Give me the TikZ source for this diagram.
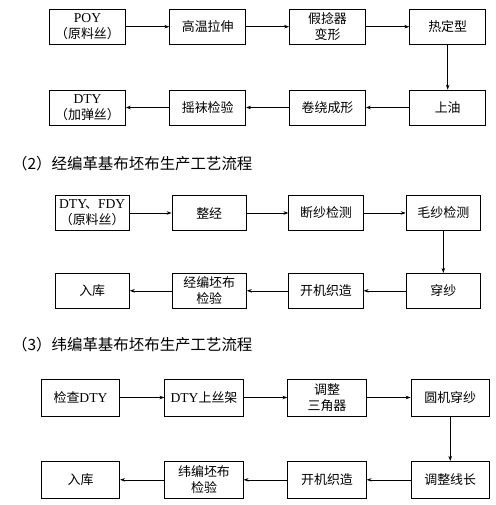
\documentclass[tikz,border=0pt]{standalone}
\usepackage{fontspec}
\setmainfont{Noto Sans CJK SC}
\newfontfamily\lat[Scale=1.05]{Liberation Serif}
\usetikzlibrary{arrows.meta}
\tikzset{
  pbox/.style={draw=black, line width=0.7bp, minimum width=76bp, minimum height=35bp, inner sep=0pt, align=center, font=\fontsize{13}{16}\selectfont},
  flow/.style={line width=0.6bp, -{Stealth[length=5bp,width=3.5bp]}},
  ttl/.style={anchor=west, inner sep=0pt, font=\fontsize{15.5}{18}\selectfont}
}
\begin{document}
\begin{tikzpicture}[x=1bp,y=-1bp]
\useasboundingbox (0,0) rectangle (496,505);
% section 1
\node[pbox] (a1) at (87.5,26.7) {{\lat POY}\\（原料丝）};
\node[pbox] (a2) at (207.7,26.7) {高温拉伸};
\node[pbox] (a3) at (327.5,26.7) {假捻器\\变形};
\node[pbox] (a4) at (447.7,26.7) {热定型};
\node[pbox] (a5) at (447.7,107.5) {上油};
\node[pbox] (a6) at (327.5,107.5) {卷绕成形};
\node[pbox] (a7) at (207.7,107.5) {摇袜检验};
\node[pbox] (a8) at (87.5,107.5) {{\lat DTY}\\（加弹丝）};
\draw[flow] (a1) -- (a2);
\draw[flow] (a2) -- (a3);
\draw[flow] (a3) -- (a4);
\draw[flow] (a4) -- (a5);
\draw[flow] (a5) -- (a6);
\draw[flow] (a6) -- (a7);
\draw[flow] (a7) -- (a8);
% section 2
\node[ttl] (t2) at (12,163.5) {（2）经编革基布坯布生产工艺流程};
\node[pbox, minimum width=74.5bp] (b1) at (92.2,213) {{\lat DTY}\kern-2bp、{\lat FDY}\\（原料丝）};
\node[pbox, minimum width=74.5bp] (b2) at (209.2,213) {整经};
\node[pbox, minimum width=74.5bp] (b3) at (326,213) {断纱检测};
\node[pbox, minimum width=74.5bp] (b4) at (443.3,213) {毛纱检测};
\node[pbox, minimum width=74.5bp] (b5) at (443.3,290.8) {穿纱};
\node[pbox, minimum width=74.5bp] (b6) at (326,290.8) {开机织造};
\node[pbox, minimum width=74.5bp] (b7) at (209.2,290.8) {经编坯布\\检验};
\node[pbox, minimum width=74.5bp] (b8) at (92.2,290.8) {入库};
\draw[flow] (b1) -- (b2);
\draw[flow] (b2) -- (b3);
\draw[flow] (b3) -- (b4);
\draw[flow] (b4) -- (b5);
\draw[flow] (b5) -- (b6);
\draw[flow] (b6) -- (b7);
\draw[flow] (b7) -- (b8);
% section 3
\node[ttl] (t3) at (12,345) {（3）纬编革基布坯布生产工艺流程};
\node[pbox, minimum width=78.5bp, minimum height=37bp] (c1) at (80.5,397.5) {检查{\lat DTY}};
\node[pbox, minimum width=78.5bp, minimum height=37bp] (c2) at (204,397.5) {{\lat DTY}上丝架};
\node[pbox, minimum width=78.5bp, minimum height=37bp] (c3) at (327,397.5) {调整\\三角器};
\node[pbox, minimum width=78.5bp, minimum height=37bp] (c4) at (450.2,397.5) {圆机穿纱};
\node[pbox, minimum width=78.5bp, minimum height=37bp] (c5) at (450.2,479.8) {调整线长};
\node[pbox, minimum width=78.5bp, minimum height=37bp] (c6) at (327,479.8) {开机织造};
\node[pbox, minimum width=78.5bp, minimum height=37bp] (c7) at (204,479.8) {纬编坯布\\检验};
\node[pbox, minimum width=78.5bp, minimum height=37bp] (c8) at (80.5,479.8) {入库};
\draw[flow] (c1) -- (c2);
\draw[flow] (c2) -- (c3);
\draw[flow] (c3) -- (c4);
\draw[flow] (c4) -- (c5);
\draw[flow] (c5) -- (c6);
\draw[flow] (c6) -- (c7);
\draw[flow] (c7) -- (c8);
\end{tikzpicture}
\end{document}
